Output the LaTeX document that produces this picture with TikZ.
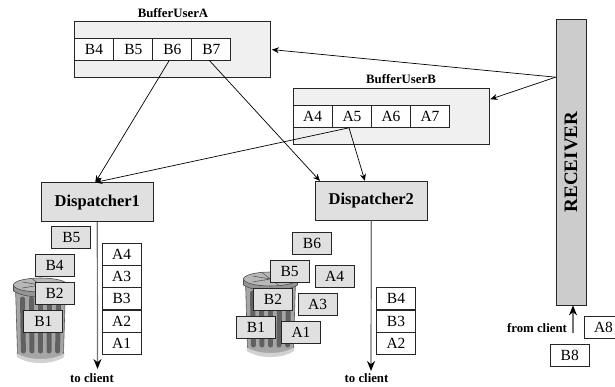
\documentclass[tikz,border=0pt]{standalone}
\usepackage{fontspec}
\setmainfont{Liberation Serif}
\usetikzlibrary{arrows.meta}
\definecolor{ln}{gray}{0.15}
\tikzset{
  x=1pt,y=-1pt,
  cell/.style={draw=ln,line width=0.8pt,fill=white,minimum width=39pt,minimum height=22pt,inner sep=0pt,font=\fontsize{15.5}{15.5}\selectfont},
  gcell/.style={cell,fill=black!12},
  buf/.style={draw=ln,line width=0.8pt,fill=black!6,minimum width=196pt,minimum height=56pt,inner sep=0pt},
  disp/.style={draw=ln,line width=0.8pt,fill=black!12,minimum width=112pt,minimum height=39pt,inner sep=0pt,font=\fontsize{16.5}{16.5}\selectfont\bfseries},
  lab/.style={inner sep=0pt,font=\fontsize{12.8}{12.8}\selectfont\bfseries},
  conn/.style={draw=black,line width=0.7pt,-{Stealth[length=7pt,width=6pt]}},
  thick conn/.style={draw=black!55,line width=1.2pt,-{Stealth[length=10pt,width=8pt,color=black]}},
  pics/trash/.style={code={
    % body
    \fill[black!35,draw=black!65,line width=.6pt] (-25,2) -- (-23,69) .. controls (-12,77) and (12,77) .. (23,69) -- (25,2) -- cycle;
    \fill[black!18] (-24,68) .. controls (-12,76) and (12,76) .. (24,68) -- (23.5,72) .. controls (12,80) and (-12,80) .. (-23.5,72) -- cycle;
    \foreach \xx in {-18,-9,0,9,18}{
      \draw[black!62,line width=5pt,line cap=round] (\xx,14) -- (\xx*.95,66);
    }
    % lid
    \fill[black!42,draw=black!70,line width=.6pt] (-27,0) -- (-27,6) .. controls (-15,14) and (15,14) .. (27,6) -- (27,0) -- cycle;
    \fill[black!28,draw=black!70,line width=.6pt] (0,0) ellipse [x radius=27,y radius=7];
    \draw[black!65,line width=.6pt] (-18,-3) -- (18,3) (-18,3) -- (18,-3) (-8,-6) -- (8,6);
  }}
}
\begin{document}
\begin{tikzpicture}
\useasboundingbox (0,0) rectangle (615,386);
% trash cans
\path (40.5,285) pic {trash};
\path (270.5,279) pic {trash};
% buffers
\node[buf] (bufa) at (172.5,49.6) {};
\node[lab,anchor=base] (bufal) at (173,17.5) {BufferUserA};
\node[cell] (b4) at (94,49) {B4};
\node[cell] (b5) at (133.3,49) {B5};
\node[cell] (b6) at (172.3,49) {B6};
\node[cell] (b7) at (211.3,49) {B7};
\node[buf] (bufb) at (391,116.6) {};
\node[lab,anchor=base] (bufbl) at (401,83) {BufferUserB};
\node[cell] (a4) at (312.7,116.4) {A4};
\node[cell] (a5) at (352,116.4) {A5};
\node[cell] (a6) at (391,116.4) {A6};
\node[cell] (a7) at (430,116.4) {A7};
% receiver
\node[draw=ln,line width=0.8pt,fill=black!20,minimum width=30pt,minimum height=285.5pt,inner sep=0pt] (rec) at (571,162.2) {};
\node[rotate=90,inner sep=0pt,font=\fontsize{19}{19}\selectfont\bfseries] (rect) at (571,162) {RECEIVER};
% dispatchers
\node[disp] (d1) at (97.3,202.3) {Dispatcher1};
\node[disp] (d2) at (371.3,200.8) {Dispatcher2};
% labels and stacks
\node[lab] (tc1) at (92,378) {to client};
\node[lab] (tc2) at (366.5,378) {to client};
\node[lab] (fc) at (537,328) {from client};
\coordinate (tc1a) at (97.5,369);
\coordinate (tc2a) at (371,371);
\coordinate (fca) at (573,333);
\foreach \n/\t/\xx/\yy in {s1/A4/121.7/254,s2/A3/121.7/276.3,s3/B3/121.7/298.7,s4/A2/121.7/321,s5/A1/121.7/343,
  t1/B4/396/298.7,t2/B3/396/321,t3/A2/396/343,a8/A8/603.5/327,b8/B8/569.7/355}
  {\node[cell] (\n) at (\xx,\yy) {\t};}
\foreach \n/\t/\xx/\yy in {g1/B5/71.3/237,g2/B4/54.7/265,g3/B2/54.7/293.5,g4/B1/43.3/321,
  h1/B6/312/243,h2/B5/289.7/271,h3/A4/334.7/276.5,h4/B2/273/299,h5/A3/317.7/304.3,h6/B1/256/327,h7/A1/301/332.3}
  {\node[gcell] (\n) at (\xx,\yy) {\t};}
% connectors
\draw[conn] ([xshift=-3pt]b6.south) -- ([xshift=-2pt]d1.north);
\draw[conn] ([xshift=-2pt]b7.south) -- ([xshift=5pt]d2.north west);
\draw[conn] ([xshift=-3pt]a5.south) -- ([xshift=-2pt]d1.north);
\draw[conn] ([xshift=-3pt]a5.south) -- ([xshift=50pt]d2.north west);
\draw[conn] ([yshift=85pt]rec.west) -- ([xshift=1pt]bufa.east);
\draw[conn] ([yshift=85pt]rec.west) -- ([xshift=1pt,yshift=-11pt]bufb.north east);
\draw[thick conn] (d1.south) -- (tc1a);
\draw[thick conn] (d2.south) -- (tc2a);
\draw[thick conn] (fca) -- (fca |- rec.south);
\end{tikzpicture}
\end{document}
